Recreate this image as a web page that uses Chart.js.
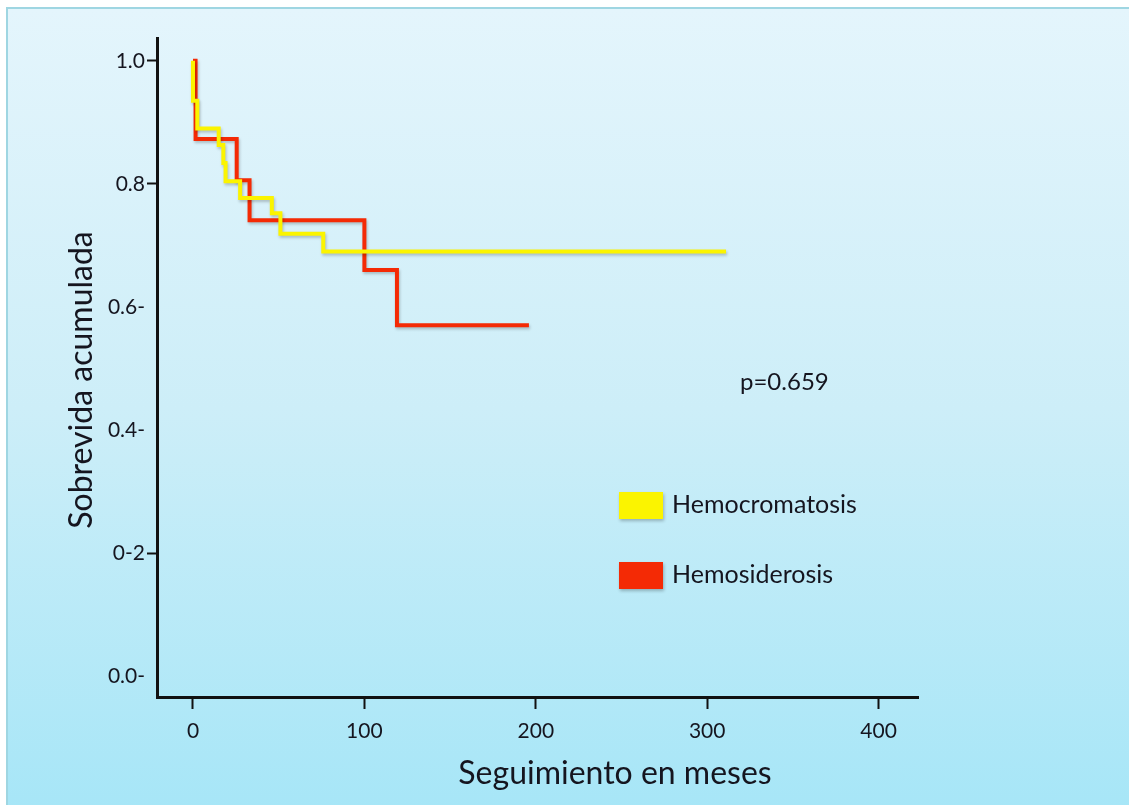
<!doctype html>
<html lang="es">
<head>
<meta charset="utf-8">
<script src="https://cdn.jsdelivr.net/npm/chart.js"></script>
<style>
  html, body { margin: 0; padding: 0; background: #fff; }
  #frame {
    position: absolute; left: 6px; top: 7px; width: 1123px; height: 798px;
    border-top: 2px solid #9fd6e2; border-left: 2px solid #9fd6e2;
    background: linear-gradient(to bottom, #e4f5fc 0%, #cdeef8 50%, #a7e6f7 100%);
  }
  #wrap { position: absolute; left: 0; top: 0; width: 1129px; height: 805px; }
</style>
</head>
<body>
<div id="frame"></div>
<div id="wrap"><canvas id="km" width="1129" height="805"></canvas></div>
<script>
// axis ticks
const xTicks = [0, 100, 200, 300, 400];
const yTicks = [0, 0.2, 0.4, 0.6, 0.8, 1.0];
const yTickLabels = ['0.0-', '0-2', '0.4-', '0.6-', '0.8', '1.0'];
const yTickMarked = [false, true, false, false, true, true];

// Kaplan-Meier steps: month of each event and survival after it
const hemocromaMeses    = [0, 0, 2.5, 15, 17.7, 19, 27.5, 46, 51, 76, 311];
const hemocromaSobrevida = [1.0, 0.935, 0.89, 0.863, 0.834, 0.804, 0.777, 0.752, 0.719, 0.69, 0.69];

const hemosideMeses    = [0, 1.5, 25.5, 33, 100, 119, 196];
const hemosideSobrevida = [1.0, 0.873, 0.806, 0.741, 0.66, 0.57, 0.57];

const pValor = 'p=0.659';

const FONT = 'Lato, "Open Sans", sans-serif';
const INK = '#15151f';

function toPoints(xs, ys) {
  return xs.map((x, i) => ({ x: x, y: ys[i] }));
}

// soft drop shadow under the curves
const lineShadow = {
  id: 'lineShadow',
  beforeDatasetDraw(chart) {
    const c = chart.ctx;
    c.save();
    c.shadowColor = 'rgba(0,0,0,0.22)';
    c.shadowBlur = 3;
    c.shadowOffsetX = 1;
    c.shadowOffsetY = 2;
  },
  afterDatasetDraw(chart) {
    chart.ctx.restore();
  }
};

// p value, legend boxes and the axis titles
const extras = {
  id: 'extras',
  afterDraw(chart) {
    const c = chart.ctx;
    c.save();
    c.fillStyle = INK;
    c.textBaseline = 'middle';
    c.textAlign = 'left';
    c.font = '24px ' + FONT;
    c.fillText(pValor, 740, 382);

    const rows = [
      { ds: chart.data.datasets[1], y: 492 },
      { ds: chart.data.datasets[0], y: 562 }
    ];
    rows.forEach(r => {
      c.save();
      c.shadowColor = 'rgba(0,0,0,0.25)';
      c.shadowBlur = 3;
      c.shadowOffsetX = 1;
      c.shadowOffsetY = 2;
      c.fillStyle = r.ds.borderColor;
      c.fillRect(619, r.y, 44, 27);
      c.restore();
      c.fillStyle = INK;
      c.font = '25px ' + FONT;
      c.fillText(r.ds.label, 672, r.y + 13);
    });

    c.textAlign = 'center';
    c.font = '32px ' + FONT;
    c.fillText('Seguimiento en meses', 615, 774);

    c.translate(82, 380);
    c.rotate(-Math.PI / 2);
    c.fillText('Sobrevida acumulada', 0, 0);
    c.restore();
  }
};

new Chart(document.getElementById('km'), {
  type: 'line',
  data: {
    datasets: [
      {
        label: 'Hemosiderosis',
        data: toPoints(hemosideMeses, hemosideSobrevida),
        borderColor: '#f42a05',
        order: 2
      },
      {
        label: 'Hemocromatosis',
        data: toPoints(hemocromaMeses, hemocromaSobrevida),
        borderColor: '#fbf400',
        order: 1
      }
    ]
  },
  options: {
    responsive: false,
    animation: false,
    parsing: false,
    layout: { padding: { top: 38, right: 211, left: 0, bottom: 0 } },
    elements: {
      line: { borderWidth: 4, stepped: true, fill: false, tension: 0, borderJoinStyle: 'miter', borderCapStyle: 'butt' },
      point: { radius: 0, hoverRadius: 0 }
    },
    plugins: {
      legend: { display: false },
      tooltip: { enabled: false }
    },
    scales: {
      x: {
        type: 'linear',
        min: -21,
        max: 423,
        afterBuildTicks: s => { s.ticks = xTicks.map(v => ({ value: v })); },
        afterFit: s => { s.height = 108; },
        ticks: {
          autoSkip: false, maxRotation: 0, padding: 10,
          color: INK, font: { family: FONT, size: 21 },
          callback: v => String(v)
        },
        grid: { drawOnChartArea: false, tickLength: 12, tickWidth: 2, tickColor: '#111' },
        border: { color: '#111', width: 3 }
      },
      y: {
        type: 'linear',
        min: -0.034,
        max: 1.037,
        afterBuildTicks: s => { s.ticks = yTicks.map(v => ({ value: v })); },
        afterFit: s => { s.width = 157; },
        ticks: {
          autoSkip: false, padding: 2,
          color: INK, font: { family: FONT, size: 21 },
          callback: (v, i) => yTickLabels[i]
        },
        grid: {
          drawOnChartArea: false, tickLength: 10, tickWidth: 2,
          tickColor: ctx => yTickMarked[ctx.index] ? '#111' : 'rgba(0,0,0,0)'
        },
        border: { color: '#111', width: 3 }
      }
    }
  },
  plugins: [lineShadow, extras]
});
</script>
</body>
</html>
